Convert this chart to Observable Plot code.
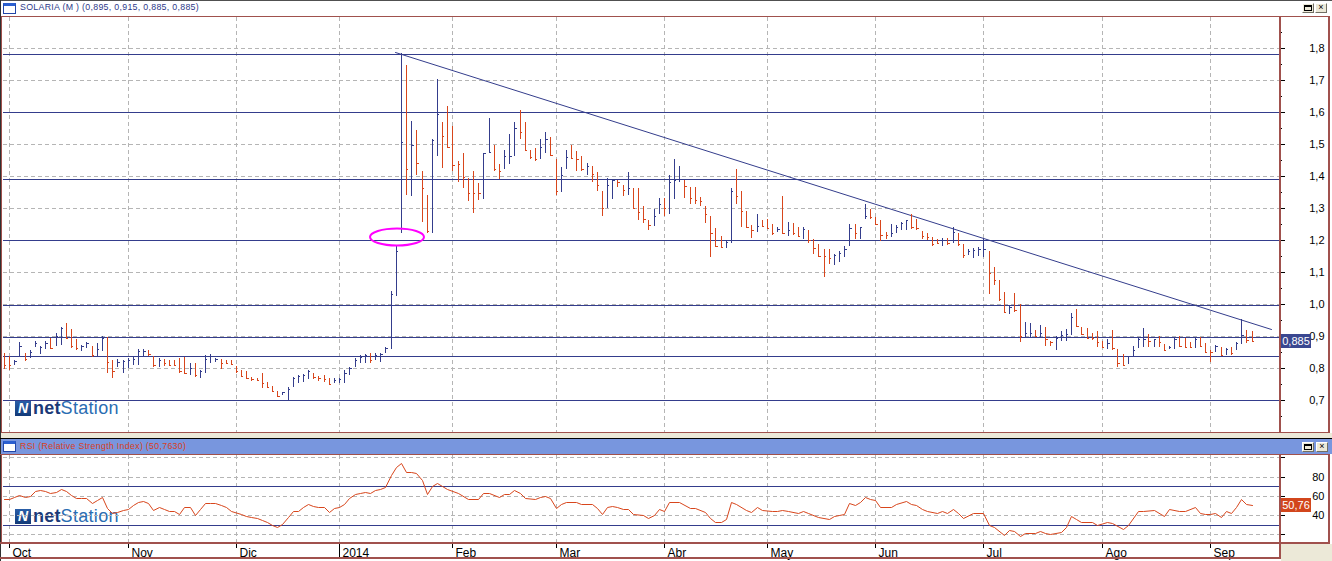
<!DOCTYPE html>
<html><head><meta charset="utf-8">
<script src="https://cdn.jsdelivr.net/npm/d3@7"></script>
<script src="https://cdn.jsdelivr.net/npm/@observablehq/plot@0.6"></script>
<style>
body{margin:0;background:#fff;width:1332px;height:561px;overflow:hidden;font-family:"Liberation Sans",Arial,sans-serif}
#root{position:relative;width:1332px;height:561px;overflow:hidden}
.abs{position:absolute}
#root svg{position:absolute;left:0;top:0}
.logo{position:absolute;height:18px;display:flex;align-items:center;font-family:"Liberation Sans",Arial,sans-serif;font-size:18px;line-height:18px}
.logo .ico{width:16px;height:15px;background:linear-gradient(#2a5ea8,#123a78);color:#fff;font-weight:bold;font-size:14px;line-height:15px;text-align:center;margin-right:2px;font-style:italic}
.logo .net{color:#1b3a78;font-weight:bold;letter-spacing:0.2px}
.logo .st{color:#2a6db2;letter-spacing:0.3px}
.btn{position:absolute;background:#ece9d8;border:1px solid #fff;border-right-color:#716f64;border-bottom-color:#716f64;box-sizing:border-box;font-size:9px;line-height:7px;text-align:center;color:#000}
.ttl{position:absolute;font-size:8.8px;letter-spacing:0.3px;line-height:11px;white-space:nowrap}
.icon{position:absolute;width:13px;height:11px;box-sizing:border-box;border:1px solid #2146a8;border-top:3px solid #2b5fd0;background:#fff}
</style></head><body><div id="root"></div>
<script>
// ---------------- data ----------------
const ticker = "SOLARIA";
const lastOpen = 0.895;
const hi = [
0.848,0.838,0.826,0.883,0.846,0.857,0.886,0.869,0.886,0.893,
0.909,0.930,0.940,0.921,0.890,0.872,0.883,0.869,0.878,0.900,
0.898,0.826,0.828,0.826,0.831,0.834,0.859,0.859,0.857,0.838,
0.831,0.828,0.826,0.826,0.831,0.834,0.817,0.815,0.794,0.841,
0.844,0.831,0.828,0.826,0.826,0.807,0.794,0.792,0.772,0.768,
0.784,0.758,0.744,0.730,0.727,0.742,0.774,0.779,0.782,0.794,
0.786,0.776,0.779,0.768,0.768,0.768,0.794,0.805,0.831,0.841,
0.844,0.846,0.846,0.846,0.867,1.040,1.180,1.785,1.746,1.571,
1.543,1.415,1.340,1.515,1.701,1.569,1.618,1.556,1.446,1.470,
1.392,1.415,1.377,1.470,1.580,1.496,1.437,1.481,1.531,1.569,
1.606,1.569,1.481,1.488,1.515,1.538,1.520,1.452,1.429,1.481,
1.496,1.478,1.462,1.441,1.431,1.413,1.354,1.392,1.387,1.387,
1.372,1.413,1.361,1.361,1.306,1.262,1.296,1.330,1.330,1.403,
1.452,1.431,1.387,1.364,1.364,1.335,1.306,1.275,1.236,1.213,
1.197,1.361,1.422,1.354,1.290,1.247,1.281,1.262,1.264,1.250,
1.242,1.337,1.257,1.252,1.242,1.239,1.231,1.202,1.187,1.171,
1.171,1.156,1.167,1.181,1.250,1.250,1.239,1.312,1.296,1.273,
1.262,1.226,1.250,1.247,1.257,1.262,1.280,1.265,1.229,1.223,
1.208,1.202,1.205,1.205,1.240,1.221,1.187,1.171,1.174,1.179,
1.205,1.166,1.115,1.075,1.039,0.997,1.034,0.999,0.943,0.940,
0.919,0.935,0.930,0.885,0.902,0.916,0.921,0.971,0.984,0.930,
0.924,0.911,0.916,0.885,0.890,0.919,0.859,0.844,0.839,0.869,
0.893,0.924,0.907,0.891,0.901,0.876,0.869,0.893,0.901,0.893,
0.883,0.898,0.898,0.878,0.857,0.872,0.867,0.862,0.867,0.883,
0.952,0.919,0.915];
const lo = [
0.796,0.794,0.810,0.836,0.823,0.831,0.867,0.844,0.859,0.859,
0.869,0.872,0.890,0.862,0.857,0.855,0.862,0.836,0.838,0.855,
0.786,0.768,0.805,0.786,0.800,0.810,0.810,0.836,0.838,0.805,
0.805,0.807,0.807,0.807,0.786,0.782,0.779,0.774,0.768,0.784,
0.817,0.820,0.796,0.813,0.810,0.786,0.771,0.765,0.761,0.761,
0.737,0.737,0.727,0.709,0.716,0.701,0.742,0.755,0.758,0.765,
0.765,0.761,0.758,0.748,0.753,0.753,0.753,0.779,0.803,0.817,
0.817,0.817,0.826,0.820,0.846,0.859,1.025,1.223,1.340,1.337,
1.403,1.257,1.223,1.223,1.463,1.424,1.489,1.416,1.382,1.363,
1.323,1.283,1.325,1.327,1.472,1.416,1.389,1.422,1.437,1.462,
1.514,1.479,1.453,1.448,1.453,1.472,1.462,1.340,1.351,1.422,
1.453,1.416,1.416,1.403,1.382,1.354,1.275,1.301,1.327,1.364,
1.338,1.340,1.299,1.262,1.252,1.231,1.244,1.280,1.275,1.281,
1.327,1.382,1.330,1.312,1.311,1.306,1.252,1.148,1.179,1.174,
1.174,1.192,1.312,1.240,1.239,1.205,1.226,1.239,1.233,1.216,
1.226,1.219,1.212,1.216,1.210,1.202,1.192,1.156,1.148,1.086,
1.125,1.122,1.132,1.148,1.181,1.202,1.202,1.264,1.264,1.247,
1.198,1.202,1.208,1.223,1.231,1.231,1.233,1.231,1.202,1.200,
1.182,1.187,1.182,1.184,1.190,1.182,1.143,1.153,1.143,1.150,
1.148,1.032,1.060,1.011,0.971,0.968,0.974,0.883,0.898,0.893,
0.896,0.896,0.870,0.870,0.857,0.886,0.886,0.904,0.933,0.904,
0.891,0.888,0.867,0.862,0.859,0.857,0.803,0.810,0.813,0.838,
0.862,0.867,0.867,0.867,0.867,0.855,0.859,0.859,0.867,0.862,
0.862,0.862,0.867,0.849,0.820,0.852,0.838,0.841,0.841,0.857,
0.876,0.880,0.885];
const cl = [
0.810,0.810,0.822,0.870,0.828,0.850,0.880,0.865,0.880,0.862,
0.900,0.925,0.895,0.868,0.862,0.868,0.878,0.840,0.860,0.895,
0.820,0.790,0.820,0.822,0.825,0.830,0.855,0.855,0.845,0.810,
0.825,0.815,0.810,0.810,0.790,0.786,0.800,0.780,0.790,0.830,
0.838,0.828,0.815,0.815,0.812,0.790,0.775,0.770,0.765,0.763,
0.755,0.742,0.730,0.712,0.725,0.735,0.770,0.775,0.778,0.790,
0.772,0.768,0.765,0.752,0.762,0.765,0.785,0.800,0.825,0.835,
0.840,0.825,0.840,0.843,0.862,1.030,1.166,1.505,1.420,1.495,
1.439,1.361,1.229,1.512,1.592,1.526,1.489,1.434,1.436,1.398,
1.346,1.346,1.346,1.470,1.476,1.420,1.415,1.462,1.462,1.548,
1.536,1.481,1.460,1.452,1.489,1.515,1.464,1.353,1.403,1.460,
1.457,1.453,1.422,1.431,1.405,1.372,1.301,1.372,1.387,1.382,
1.356,1.361,1.299,1.288,1.264,1.247,1.275,1.311,1.299,1.382,
1.387,1.389,1.370,1.330,1.325,1.322,1.280,1.221,1.181,1.179,
1.195,1.353,1.337,1.290,1.240,1.231,1.244,1.245,1.236,1.223,
1.235,1.223,1.231,1.221,1.212,1.233,1.200,1.174,1.150,1.150,
1.143,1.153,1.160,1.171,1.236,1.221,1.239,1.275,1.271,1.250,
1.216,1.216,1.223,1.242,1.252,1.262,1.239,1.236,1.212,1.210,
1.188,1.190,1.200,1.190,1.226,1.188,1.153,1.167,1.169,1.172,
1.172,1.096,1.075,1.015,0.974,0.990,0.982,0.901,0.909,0.911,
0.901,0.911,0.891,0.881,0.893,0.904,0.907,0.959,0.933,0.907,
0.893,0.893,0.881,0.865,0.878,0.862,0.817,0.810,0.839,0.857,
0.890,0.890,0.886,0.890,0.883,0.857,0.865,0.890,0.870,0.867,
0.865,0.890,0.869,0.850,0.852,0.869,0.841,0.859,0.848,0.880,
0.904,0.888,0.885];
// 1 = rising bar (blue), 0 = falling bar (red)
const up = [
0,0,1,1,0,1,1,1,1,0, 1,1,0,0,0,1,1,0,1,1, 0,0,1,1,1,1,1,1,0,0, 1,0,0,0,0,0,1,0,1,1,
1,1,0,0,0,0,0,0,0,0, 0,0,0,0,1,1,1,1,1,1, 0,0,0,0,1,1,1,1,1,1, 1,0,1,1,1,1,1,1,0,1,
0,0,0,1,1,0,0,0,0,0, 0,0,0,1,1,0,0,1,1,1, 0,0,0,0,1,1,0,0,1,1, 0,0,0,1,0,0,0,1,1,0,
0,1,0,0,0,0,1,1,0,1, 1,1,0,0,0,0,0,0,0,0, 1,1,0,0,0,0,1,0,0,0, 1,0,1,0,0,1,0,0,0,0,
0,1,1,1,1,0,1,1,0,0, 0,0,1,1,1,1,0,0,0,0, 0,0,1,0,1,0,0,1,1,1, 1,0,0,0,0,1,0,0,1,1,
0,1,0,0,1,1,1,1,0,0, 0,0,0,0,1,0,0,0,1,1, 1,1,0,1,0,0,1,1,0,0, 0,1,0,0,0,1,0,1,0,1,
1,0,0];
// RSI (vertices): bar index, value
const rsiIdx = [0,1,2,3,4,5,6,7,8,9,10,11,12,13,14,15,16,17,18,19,20,21,22,23,24,25,26,27,28,29,30,31,32,33,34,35,36,37,38,39,40,41,42,43,44,46,47,48,49,50,51,52,53,54,55,56,57,58,59,60,61,62,63,64,65,66,67,68,69,70,71,72,73,74,75,76,77,78,79,80,81,82,83,84,85,86,88,90,92,93,94,96,97,98,99,100,101,103,104,105,106,107,108,109,111,112,114,115,116,117,118,119,120,121,122,124,125,126,127,128,129,131,133,134,136,137,138,139,140,141,142,144,145,146,147,149,150,151,152,154,155,156,158,160,161,162,163,164,165,166,167,168,169,170,172,173,175,176,177,178,179,181,182,183,184,185,186,188,190,191,192,194,195,196,197,198,200,201,202,203,205,206,207,208,209,211,212,214,215,217,218,220,221,223,225,226,228,229,231,232,233,234,235,236,237,238,239,240,241,242];
const rsiVal = [56.8,56.8,59.2,60.6,59.2,59.9,65.5,66.2,65.5,62.7,64.4,67.2,65.1,60.9,57.5,57.5,57.5,53.0,55.7,59.2,47.1,42.5,43.6,45.3,46.4,50.5,54.0,54.7,52.3,45.3,48.1,46.4,44.6,44.6,40.8,48.1,48.1,40.1,46.0,52.3,52.3,52.3,50.5,48.1,44.6,40.8,39.4,37.7,37.0,34.9,32.5,30.0,27.3,30.7,37.7,44.3,44.6,48.8,51.6,49.5,48.1,48.1,42.9,47.1,48.1,51.6,57.5,62.0,63.4,64.4,63.4,66.2,67.2,69.6,81.8,89.8,94.6,85.2,85.2,83.5,76.6,62.0,70.3,73.1,70.8,67.2,63.4,56.4,56.4,63.4,63.4,58.5,62.0,62.0,66.2,62.7,58.2,56.4,59.2,60.3,57.5,47.1,51.6,54.0,54.0,51.6,51.6,47.1,40.8,48.1,49.5,48.8,46.0,46.0,41.2,40.1,36.6,40.1,46.0,44.6,53.3,54.0,47.1,47.1,43.6,36.6,33.2,33.2,35.6,54.0,51.6,45.3,43.6,48.1,45.3,44.6,44.6,45.3,44.6,42.5,44.6,41.8,37.7,35.6,39.1,40.1,41.2,52.3,50.5,54.0,59.2,57.0,55.7,48.1,48.1,51.6,55.0,51.6,50.5,46.4,44.6,42.5,44.6,42.5,46.0,42.5,36.6,41.8,41.8,29.7,27.3,19.3,24.5,23.8,18.2,21.0,21.0,23.1,21.0,20.0,22.7,28.0,39.1,35.6,33.2,33.2,29.7,33.2,31.4,25.2,29.7,44.6,44.6,45.3,39.1,46.4,44.3,44.3,48.8,42.5,40.8,40.8,42.5,38.4,44.6,42.5,48.1,56.8,51.6,50.763];
const rsiParam = 50.7630;
// month starts (bar index) and labels
const monthIdx = [1,24,45,65,87,107,128,148,169,190,213,234];
const monthLbl = ["Oct","Nov","Dic","2014","Feb","Mar","Abr","May","Jun","Jul","Ago","Sep"];
const yearIdx = [65];
// support / resistance levels and trend line
const levels = [1.78, 1.598, 1.39, 1.2, 0.997, 0.898, 0.838, 0.7];
const trendIdx = [75.8, 245.7];
const trendVal = [1.786, 0.922];
const markIdx = 76.3, markVal = 1.21; // highlighted gap
// axis ticks
const priceMajor = [0.6,0.7,0.8,0.9,1.0,1.1,1.2,1.3,1.4,1.5,1.6,1.7,1.8];
const priceMinor = [0.65,0.75,0.85,0.95,1.05,1.15,1.25,1.35,1.45,1.55,1.65,1.75,1.85];
const priceLbl = [0.7,0.8,0.9,1.0,1.1,1.2,1.3,1.4,1.5,1.6,1.7,1.8];
const rsiTicks = [20,40,60,80,100];
const rsiLbl = [40,60,80];
const rsiLevels = [30,70];

// ---------------- drawing ----------------
const NAVY = "#343d8c", RED = "#d8461c", GRID = "#b5b5b5", BROWN = "#a0514d", BEIGE = "#ece9d8";
const W = 1332, H = 561;
const xDomain = [-0.194, 247.33];
const comma = (v, d) => v.toFixed(d).replace(".", ",");
const last = cl.length - 1;
const bars = cl.map((c, i) => ({i, hi: hi[i], lo: lo[i], cl: c, up: up[i]}));
const upBars = bars.filter(d => d.up), dnBars = bars.filter(d => !d.up);
const rsi = rsiIdx.map((x, k) => ({x, v: rsiVal[k]}));
const trend = trendIdx.map((x, k) => ({x, v: trendVal[k]}));
const months = monthIdx.map((x, k) => ({x, t: monthLbl[k]}));
const svgNS = "http://www.w3.org/2000/svg";

function valueBox(val, txt, bg) {
  return (index, scales, values, dims) => {
    const y = Math.round(scales.y(val));
    const x0 = dims.width - dims.marginRight + 2;
    const g = document.createElementNS(svgNS, "g");
    const r = document.createElementNS(svgNS, "rect");
    r.setAttribute("x", x0); r.setAttribute("y", y - 7);
    r.setAttribute("width", 30); r.setAttribute("height", 14);
    r.setAttribute("fill", bg);
    const t = document.createElementNS(svgNS, "text");
    t.setAttribute("x", x0 + 15); t.setAttribute("y", y + 4);
    t.setAttribute("fill", "#fff"); t.setAttribute("font-size", 11);
    t.setAttribute("text-anchor", "middle");
    t.setAttribute("font-family", "Liberation Sans, Arial, sans-serif");
    t.textContent = txt;
    g.append(r, t);
    return g;
  };
}
function ellipseMark(ix, val) {
  return (index, scales) => {
    const e = document.createElementNS(svgNS, "ellipse");
    e.setAttribute("cx", scales.x(ix)); e.setAttribute("cy", scales.y(val));
    e.setAttribute("rx", 27); e.setAttribute("ry", 8.5);
    e.setAttribute("fill", "none"); e.setAttribute("stroke", "#ff00ff");
    e.setAttribute("stroke-width", 2);
    return e;
  };
}
const dashed = {stroke: GRID, strokeDasharray: "4,3"};
const noText = () => "";

const main = Plot.plot({
  width: W, height: H,
  marginLeft: 3, marginRight: 53, marginTop: 17, marginBottom: 129,
  style: {background: "transparent", fontFamily: "Liberation Sans, Arial, sans-serif", overflow: "visible"},
  x: {domain: xDomain, axis: null, round: true, label: null},
  y: {domain: [0.6009, 1.8958], round: true, label: null},
  marks: [
    Plot.ruleY(priceLbl, dashed),
    Plot.ruleX(monthIdx, dashed),
    Plot.ruleY(levels, {stroke: NAVY, strokeWidth: 1.2}),
    Plot.line(trend, {x: "x", y: "v", stroke: NAVY, strokeWidth: 1}),
    Plot.ruleX(upBars, {x: "i", y1: "lo", y2: "hi", stroke: NAVY}),
    Plot.ruleX(dnBars, {x: "i", y1: "lo", y2: "hi", stroke: RED}),
    Plot.ruleY(upBars, {y: "cl", x1: "i", x2: d => d.i + 0.45, stroke: NAVY}),
    Plot.ruleY(dnBars, {y: "cl", x1: "i", x2: d => d.i + 0.45, stroke: RED}),
    ellipseMark(markIdx, markVal),
    Plot.axisY({anchor: "right", ticks: priceMajor, tickSize: 5, tickFormat: noText, label: null, stroke: "#000"}),
    Plot.axisY({anchor: "right", ticks: priceMinor, tickSize: 2, tickFormat: noText, label: null, stroke: "#000"}),
    Plot.text(priceLbl, {y: d => d, text: d => comma(d, 1), frameAnchor: "right", dx: 45, textAnchor: "end", fontSize: 11, fill: "#000"}),
    valueBox(cl[last], comma(cl[last], 3), "#3a4790")
  ]
});

const rsiPlot = Plot.plot({
  width: W, height: H,
  marginLeft: 3, marginRight: 53, marginTop: 455, marginBottom: 19,
  style: {background: "transparent", fontFamily: "Liberation Sans, Arial, sans-serif", overflow: "visible"},
  x: {domain: xDomain, round: true, label: null},
  y: {domain: [11.98, 102.6], round: true, label: null},
  marks: [
    Plot.ruleY(rsiTicks, dashed),
    Plot.ruleX(monthIdx, dashed),
    Plot.ruleY(rsiLevels, {stroke: NAVY, strokeWidth: 1.2}),
    Plot.line(rsi, {x: "x", y: "v", stroke: RED, strokeWidth: 1}),
    Plot.axisY({anchor: "right", ticks: rsiTicks, tickSize: 5, tickFormat: noText, label: null, stroke: "#000"}),
    Plot.text(rsiLbl, {y: d => d, text: d => String(d), frameAnchor: "right", dx: 45, textAnchor: "end", fontSize: 11, fill: "#000"}),
    Plot.axisX({anchor: "bottom", ticks: monthIdx, tickSize: 6, tickFormat: noText, label: null, stroke: "#000"}),
    Plot.axisX({anchor: "bottom", ticks: yearIdx, tickSize: 16, tickFormat: noText, label: null, stroke: "#000"}),
    Plot.text(months, {x: "x", text: "t", frameAnchor: "bottom", dy: 14, dx: 3, textAnchor: "start", lineAnchor: "bottom", fontSize: 12, fill: "#000"}),
    valueBox(rsiVal[rsiVal.length - 1], comma(rsiVal[rsiVal.length - 1], 2), "#d2461c")
  ]
});

const root = document.getElementById("root");
function box(l, t, w, h, bg, extra) {
  const d = document.createElement("div");
  d.className = "abs";
  d.style.cssText = `left:${l}px;top:${t}px;width:${w}px;height:${h}px;background:${bg};` + (extra || "");
  root.appendChild(d); return d;
}
function logo(l, t) {
  const d = document.createElement("div");
  d.className = "logo"; d.style.left = l + "px"; d.style.top = t + "px";
  d.innerHTML = '<span class="ico">N</span><span class="net">net</span><span class="st">Station</span>';
  root.appendChild(d);
}
// backgrounds below the charts
box(0, 433, W, 6, BEIGE);
box(0, 439, W, 15, "#7896de");
box(1281, 544, 51, 17, BEIGE);
logo(15, 399);
logo(15, 507);
root.appendChild(rsiPlot);
root.appendChild(main);
// frame lines above
box(0, 0, W, 1, "#505050");
box(0, 0, 1, H, "#303030");
box(1, 16, 1329, 1, BROWN);
box(1, 16, 1, 417, BROWN);
box(1279, 16, 2, 417, BROWN);
box(1328, 16, 2, 417, BROWN);
box(1, 432, 1329, 1, BROWN);
box(0, 438, W, 1, "#000");
box(0, 454, 1330, 1, BROWN);
box(1, 454, 1, 89, BROWN);
box(1279, 454, 2, 105, BROWN);
box(1328, 454, 2, 89, BROWN);
box(0, 542, 1330, 2, BROWN);
box(0, 557, 1281, 2, BROWN);
// title bars
const i1 = document.createElement("div"); i1.className = "icon"; i1.style.left = "3px"; i1.style.top = "3px"; root.appendChild(i1);
const i2 = document.createElement("div"); i2.className = "icon"; i2.style.left = "3px"; i2.style.top = "441px"; root.appendChild(i2);
const t1 = document.createElement("div"); t1.className = "ttl"; t1.style.cssText += "left:20px;top:2px;color:#2e3a8a";
t1.textContent = `${ticker} (M ) (${comma(lastOpen,3)}, ${comma(hi[last],3)}, ${comma(lo[last],3)}, ${comma(cl[last],3)})`;
root.appendChild(t1);
const t2 = document.createElement("div"); t2.className = "ttl"; t2.style.cssText += "left:20px;top:441px;color:#d8401c";
t2.textContent = `RSI (Relative Strength Index) (${comma(rsiParam,4)})`;
root.appendChild(t2);
function btn(l, t, w, h, txt) {
  const b = document.createElement("div"); b.className = "btn";
  b.style.cssText += `left:${l}px;top:${t}px;width:${w}px;height:${h}px`;
  b.innerHTML = txt; root.appendChild(b);
}
const restore = '<div style="margin:1px auto 0;width:6px;height:3px;border:1px solid #000;border-top-width:2px"></div>';
btn(1302, 3, 12, 10, restore); btn(1315, 3, 12, 10, "×");
btn(1302, 442, 12, 10, restore); btn(1316, 442, 12, 10, "×");
</script></body></html>
